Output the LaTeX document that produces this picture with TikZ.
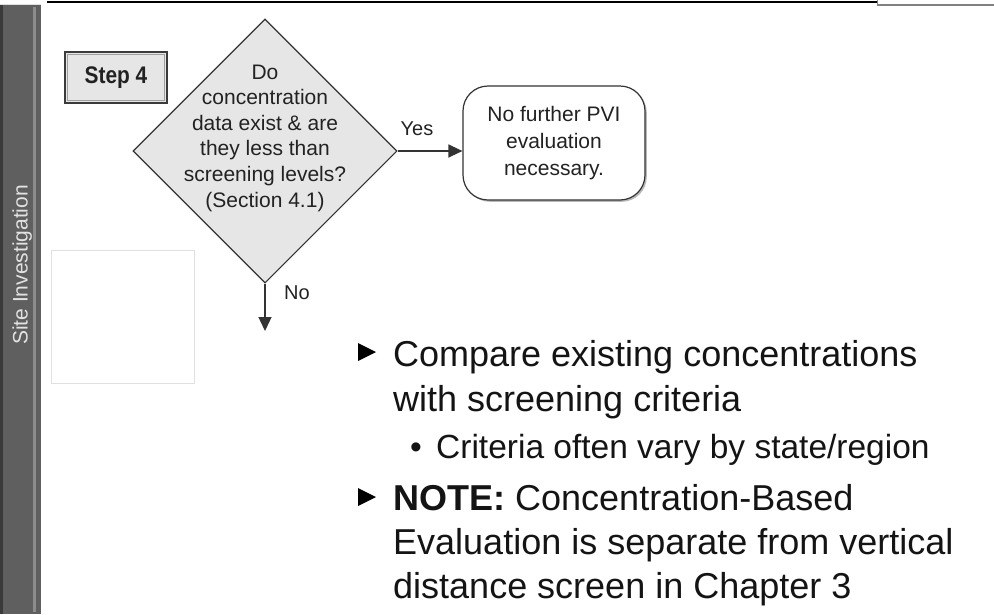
\documentclass[tikz,border=0pt]{standalone}
\usepackage{fontspec}
\usepackage{graphicx}
\setmainfont{Liberation Sans}
\usetikzlibrary{shapes.geometric,arrows.meta,shadows}
\definecolor{bargray}{HTML}{5F5F5F}
\definecolor{bardark}{HTML}{3A3A3A}
\definecolor{barlight}{HTML}{8C8C8C}
\definecolor{sitetxt}{HTML}{E2E2E2}
\definecolor{shapefill}{HTML}{E6E6E6}
\definecolor{linecol}{HTML}{333333}
\definecolor{txtcol}{HTML}{222222}
\definecolor{blankline}{HTML}{E0E0E0}
\tikzset{
  stepbox/.style={draw=linecol!90!gray, line width=1.6pt, fill=shapefill, minimum width=102pt, minimum height=51pt, inner sep=0pt, font=\fontsize{24}{28}\selectfont\bfseries, text=txtcol},
  decision/.style={diamond, aspect=1, minimum width=264pt, minimum height=264pt, inner sep=0pt, draw=linecol, fill=shapefill, line width=1.1pt},
  dectext/.style={align=center, inner sep=0pt, text=txtcol, font=\fontsize{21}{25.6}\selectfont},
  endbox/.style={draw=linecol, line width=1.2pt, fill=white, rounded corners=25pt, minimum width=182pt, minimum height=114pt, inner sep=0pt, align=center, text=txtcol, font=\fontsize{21}{27}\selectfont, drop shadow={shadow xshift=1.8pt, shadow yshift=-1.8pt, fill=gray!55, opacity=1}},
  lbl/.style={inner sep=0pt, text=txtcol, font=\fontsize{20}{23}\selectfont},
  arr/.style={draw=linecol, line width=1.3pt, -{Triangle[length=14pt,width=13pt]}},
  bigtxt/.style={anchor=base west, inner sep=0pt, text=black!92, font=\fontsize{36}{44}\selectfont},
  subtxt/.style={anchor=base west, inner sep=0pt, text=black!92, font=\fontsize{33.5}{40}\selectfont},
  sitelabel/.style={rotate=90, anchor=base, inner sep=0pt, text=sitetxt, font=\fontsize{21}{24}\selectfont},
}
\begin{document}
\begin{tikzpicture}[x=1pt,y=-1pt]
\useasboundingbox (0,0) rectangle (994,614);
\fill[white] (0,0) rectangle (994,614);
% left bar
\fill[bargray] (0,4) rectangle (41,614);
\fill[bardark] (0,4) rectangle (3,614);
\fill[barlight] (33,7) rectangle (36,612);
\draw[white!75!gray, line width=0.9pt] (0,4.5) -- (41,4.5);
\node[sitelabel] (site) at (27.5,265) {Site Investigation};
% top rules
\draw[black, line width=2.2pt] (47,2) -- (877,2);
\draw[gray, line width=1.5pt] (877,4.8) -- (994,4.8);
\draw[gray, line width=0.8pt] (877,0) -- (877,5.6);
% step box
\node[stepbox] (step) at (116,77.5) {\scalebox{0.87}[1]{Step 4}};
\draw[gray!75, line width=0.8pt] ([shift={(3,3)}]step.north west) rectangle ([shift={(-3,-3)}]step.south east);
% blank frame
\node[draw=blankline, line width=1pt, minimum width=143pt, minimum height=133pt, inner sep=0pt] (blank) at (122.5,316.5) {};
% decision
\node[decision] (dec) at (265,151) {};
\node[dectext] (dq) at (265,138) {Do\\concentration\\data exist \& are\\they less than\\screening levels?\\(Section 4.1)};
% end box
\node[endbox] (nf) at (554,143) {No further PVI\\evaluation\\necessary.};
% connectors
\draw[arr] (dec.east) -- (dec.east -| nf.west);
\coordinate (noend) at (265,331);
\draw[arr] (dec.south) -- (noend);
\node[lbl] (yes) at (417,129) {Yes};
\node[lbl] (no) at (297,293) {No};
% bullets
\fill[black] (358,343) -- (376,352) -- (358,361) -- cycle;
\node[bigtxt] (b1a) at (393,366) {Compare existing concentrations};
\node[bigtxt] (b1b) at (393,411) {with screening criteria};
\node[subtxt] (sb) at (410,458) {•};
\node[subtxt] (b2) at (436,458) {Criteria often vary by state/region};
\fill[black] (358,488) -- (376,497) -- (358,506) -- cycle;
\node[bigtxt] (b3a) at (393,510) {\textbf{NOTE:} Concentration-Based};
\node[bigtxt] (b3b) at (393,554) {Evaluation is separate from vertical};
\node[bigtxt] (b3c) at (393,598) {distance screen in Chapter 3};
\end{tikzpicture}
\end{document}
